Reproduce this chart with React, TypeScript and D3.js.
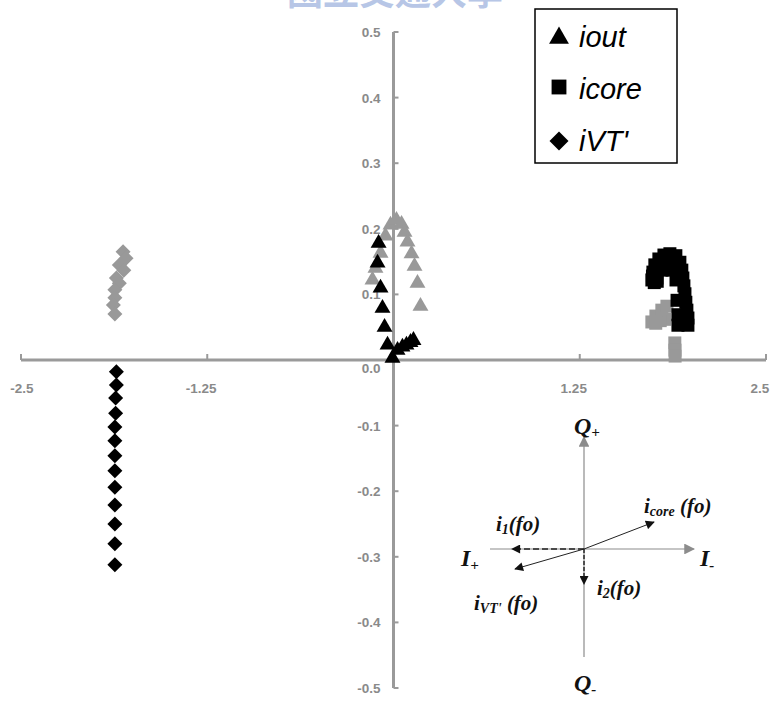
import React from "react";
import * as d3 from "d3";

const W = 771;
const H = 704;

// x-axis ticks and y-axis ticks
const xTicks = [-2.5, -1.25, 1.25, 2.5];
const xTickLabels = ["-2.5", "-1.25", "1.25", "2.5"];
const yTicks = [0.5, 0.4, 0.3, 0.2, 0.1, 0.0, -0.1, -0.2, -0.3, -0.4, -0.5];
const yTickLabels = ["0.5", "0.4", "0.3", "0.2", "0.1", "0.0", "-0.1", "-0.2", "-0.3", "-0.4", "-0.5"];

// iout (black triangles)
const ioutX = [-0.1, -0.107, -0.087, -0.074, -0.06, -0.04, -0.007, 0.027, 0.06, 0.087, 0.114, 0.134];
const ioutY = [0.178, 0.148, 0.11, 0.079, 0.05, 0.023, 0.003, 0.015, 0.02, 0.023, 0.027, 0.03];
// iout (gray triangles)
const ioutGrayX = [-0.141, -0.121, -0.087, -0.054, -0.02, 0.02, 0.054, 0.074, 0.094, 0.121, 0.141, 0.161, 0.181];
const ioutGrayY = [0.122, 0.14, 0.163, 0.189, 0.206, 0.213, 0.207, 0.195, 0.18, 0.162, 0.143, 0.117, 0.082];

// icore (black squares)
const icoreX = [1.734, 1.741, 1.754, 1.781, 1.815, 1.855, 1.895, 1.922, 1.935, 1.942, 1.949, 1.956, 1.962, 1.969, 1.976, 1.976, 1.738, 1.79, 1.83, 1.87, 1.9, 1.768, 1.802, 1.842, 1.869, 1.896, 1.903, 1.909, 1.909, 1.75, 1.77];
const icoreY = [0.122, 0.134, 0.145, 0.154, 0.16, 0.162, 0.159, 0.149, 0.137, 0.125, 0.113, 0.101, 0.088, 0.076, 0.064, 0.053, 0.128, 0.15, 0.155, 0.15, 0.14, 0.125, 0.137, 0.145, 0.137, 0.122, 0.091, 0.069, 0.053, 0.118, 0.12];
// icore (gray squares)
const icoreGrayX = [1.734, 1.761, 1.801, 1.835, 1.82, 1.79, 1.76, 1.888, 1.889, 1.89];
const icoreGrayY = [0.058, 0.067, 0.076, 0.082, 0.062, 0.06, 0.056, 0.026, 0.015, 0.006];

// iVT' (black diamonds)
const ivtX = [-1.86, -1.86, -1.865, -1.865, -1.87, -1.87, -1.87, -1.87, -1.87, -1.87, -1.87, -1.87, -1.87];
const ivtY = [-0.018, -0.038, -0.058, -0.081, -0.102, -0.123, -0.146, -0.169, -0.194, -0.221, -0.25, -0.28, -0.312];
// iVT' (gray diamonds)
const ivtGrayX = [-1.815, -1.795, -1.84, -1.81, -1.86, -1.84, -1.87, -1.87, -1.88, -1.87];
const ivtGrayY = [0.165, 0.155, 0.145, 0.137, 0.125, 0.117, 0.107, 0.095, 0.084, 0.07];

const legendLabels = ["iout", "icore", "iVT'"];

const GRAY = "#999999";
const AXIS = "#9a9a9a";

const triPath = d3.symbol().type(d3.symbolTriangle).size(110)()!;
const sqPath = d3.symbol().type(d3.symbolSquare).size(169)()!;
const diaPath = "M0,-7.5L7.5,0L0,7.5L-7.5,0Z";

export default function App() {
  const x = d3.scaleLinear().domain([-2.5, 2.5]).range([21, 766]);
  const y = d3.scaleLinear().domain([-0.5, 0.5]).range([688, 32]);
  const x0 = x(0);
  const y0 = y(0);

  const pts = (xs: number[], ys: number[]) => xs.map((v, i) => [x(v), y(ys[i])]);

  const serif = "'Liberation Serif', 'Times New Roman', serif";
  const sans = "'Liberation Sans', Arial, sans-serif";

  // inset diagram
  const cx = 584, cy = 549;

  return (
    <svg width={W} height={H} style={{ position: "absolute", left: 0, top: 0, background: "#fff" }}>
      <defs>
        <marker id="ag" viewBox="0 0 10 10" refX="9" refY="5" markerWidth="9" markerHeight="9" orient="auto">
          <path d="M0,0L10,5L0,10Z" fill="#8c8c8c" />
        </marker>
        <marker id="ab" viewBox="0 0 10 10" refX="9" refY="5" markerWidth="10" markerHeight="9" orient="auto" markerUnits="userSpaceOnUse">
          <path d="M0,0L10,5L0,10Z" fill="#111" />
        </marker>
      </defs>
      <rect width={W} height={H} fill="#fff" />
      {/* watermark */}
      <text x={395} y={5} textAnchor="middle" fontSize={36} fontWeight="bold" fill="#b7c6e6" fontFamily="'Noto Sans CJK TC', sans-serif">
        國立交通大學
      </text>

      {/* axes */}
      <line x1={x(-2.5)} x2={x(2.5)} y1={y0} y2={y0} stroke={AXIS} strokeWidth={3} />
      <line x1={x0} x2={x0} y1={y(0.5)} y2={y(-0.5)} stroke={AXIS} strokeWidth={3} />
      {xTicks.map((t) => (
        <line key={"xt" + t} x1={x(t)} x2={x(t)} y1={y0} y2={y0 - 6} stroke={AXIS} strokeWidth={2} />
      ))}
      {yTicks.map((t) => (
        <line key={"yt" + t} x1={x0} x2={x0 + 5} y1={y(t)} y2={y(t)} stroke={AXIS} strokeWidth={2} />
      ))}
      {xTicks.map((t, i) => (
        <text key={"xl" + t} x={x(t) + (t < -2 ? 1 : -6)} y={y0 + 33} textAnchor="middle" fontSize={13.5} fontWeight="bold" fill="#8a8a8a" fontFamily={sans}>
          {xTickLabels[i]}
        </text>
      ))}
      {yTicks.map((t, i) => (
        <text key={"yl" + t} x={x0 - 13} y={y(t) + (t === 0 ? 13 : 5)} textAnchor="end" fontSize={13.5} fontWeight="bold" fill="#8a8a8a" fontFamily={sans}>
          {yTickLabels[i]}
        </text>
      ))}

      {/* gray series first */}
      {pts(ivtGrayX, ivtGrayY).map(([px, py], i) => (
        <path key={"dg" + i} d={diaPath} transform={`translate(${px},${py})`} fill={GRAY} />
      ))}
      {pts(ioutGrayX, ioutGrayY).map(([px, py], i) => (
        <path key={"tg" + i} d={triPath} transform={`translate(${px},${py})`} fill={GRAY} />
      ))}
      {pts(icoreGrayX, icoreGrayY).map(([px, py], i) => (
        <path key={"sg" + i} d={sqPath} transform={`translate(${px},${py})`} fill={GRAY} />
      ))}
      {/* black series */}
      {pts(ivtX, ivtY).map(([px, py], i) => (
        <path key={"db" + i} d={diaPath} transform={`translate(${px},${py})`} fill="#000" />
      ))}
      {pts(ioutX, ioutY).map(([px, py], i) => (
        <path key={"tb" + i} d={triPath} transform={`translate(${px},${py})`} fill="#000" />
      ))}
      {pts(icoreX, icoreY).map(([px, py], i) => (
        <path key={"sb" + i} d={sqPath} transform={`translate(${px},${py})`} fill="#000" />
      ))}

      {/* legend */}
      <rect x={535} y={9} width={142} height={154} fill="#fff" stroke="#000" strokeWidth={1.5} />
      <path d={d3.symbol().type(d3.symbolTriangle).size(170)()!} transform="translate(559,38)" fill="#000" />
      <path d={d3.symbol().type(d3.symbolSquare).size(220)()!} transform="translate(559,87)" fill="#000" />
      <path d="M0,-9.5L9.5,0L0,9.5L-9.5,0Z" transform="translate(559,141)" fill="#000" />
      {legendLabels.map((l, i) => (
        <text key={l} x={579} y={47 + i * 52} fontSize={29} fontStyle="italic" fill="#000" fontFamily={sans}>
          {l}
        </text>
      ))}

      {/* inset phasor diagram */}
      <line x1={cx} y1={657} x2={cx} y2={437} stroke="#8c8c8c" strokeWidth={1.2} markerEnd="url(#ag)" />
      <line x1={490} y1={cy} x2={694} y2={cy} stroke="#8c8c8c" strokeWidth={1.2} markerEnd="url(#ag)" />
      <line x1={cx} y1={cy} x2={512} y2={cy} stroke="#222" strokeWidth={1.4} strokeDasharray="6,3" markerEnd="url(#ab)" />
      <line x1={cx} y1={cy} x2={cx} y2={584} stroke="#222" strokeWidth={1.4} strokeDasharray="4,2" markerEnd="url(#ab)" />
      <line x1={cx} y1={cy} x2={654} y2={522} stroke="#222" strokeWidth={1} markerEnd="url(#ab)" />
      <line x1={cx} y1={cy} x2={515} y2={569} stroke="#222" strokeWidth={1} markerEnd="url(#ab)" />

      <g fontFamily={serif} fontWeight="bold" fontStyle="italic" fill="#111">
        <text x={574} y={434} fontSize={24}>Q<tspan fontSize={15} dy={3}>+</tspan></text>
        <text x={574} y={691} fontSize={24}>Q<tspan fontSize={15} dy={3}>-</tspan></text>
        <text x={461} y={566} fontSize={24}>I<tspan fontSize={15} dy={4}>+</tspan></text>
        <text x={700} y={566} fontSize={24}>I<tspan fontSize={15} dy={4}>-</tspan></text>
        <text x={496} y={531} fontSize={21}>i<tspan fontSize={14} dy={3}>1</tspan><tspan dy={-3}>(fo)</tspan></text>
        <text x={644} y={513} fontSize={21}>i<tspan fontSize={14} dy={3}>core</tspan><tspan dy={-3}> (fo)</tspan></text>
        <text x={474} y={610} fontSize={21}>i<tspan fontSize={14} dy={3}>VT'</tspan><tspan dy={-3}> (fo)</tspan></text>
        <text x={597} y={595} fontSize={21}>i<tspan fontSize={14} dy={3}>2</tspan><tspan dy={-3}>(fo)</tspan></text>
      </g>
    </svg>
  );
}
